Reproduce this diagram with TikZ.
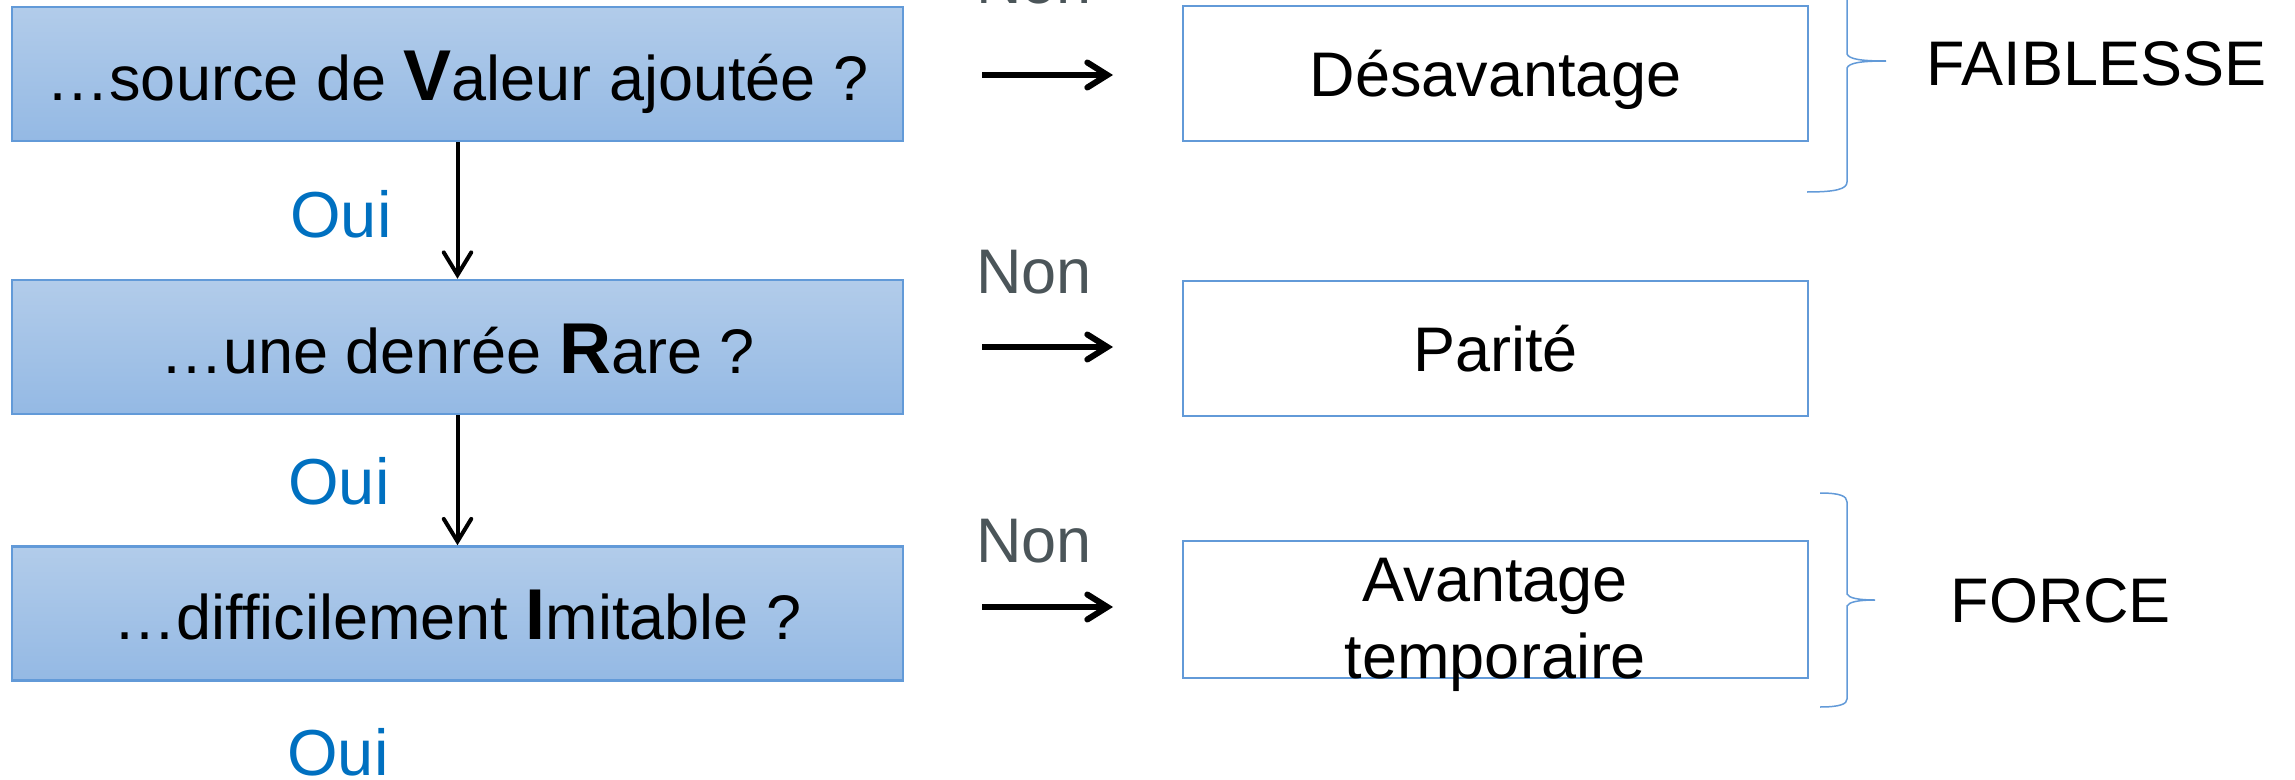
\documentclass[tikz,border=0pt]{standalone}
\usepackage{fontspec}
\setmainfont{Liberation Sans}
\usetikzlibrary{arrows.meta}
\definecolor{boxtop}{RGB}{178,204,234}
\definecolor{boxbot}{RGB}{148,185,228}
\definecolor{boxline}{RGB}{98,154,216}
\definecolor{ouiblue}{RGB}{0,112,192}
\definecolor{nongrey}{RGB}{75,85,89}
\newcommand{\initiale}[1]{{\fontsize{28.8}{30}\selectfont\bfseries #1}}
\tikzset{
  question/.style={draw=boxline, line width=1pt, top color=boxtop, bottom color=boxbot,
    minimum width=356.4pt, minimum height=53.6pt, inner sep=0pt,
    text height=21pt, text depth=0pt, font=\fontsize{25.2}{30}\selectfont},
  answer/.style={draw=boxline, line width=1.1pt, fill=white,
    minimum width=250pt, minimum height=54pt, inner sep=0pt, align=center,
    font=\fontsize{25.2}{30.8}\selectfont},
  oui/.style={text=ouiblue, anchor=base, inner sep=0pt, font=\fontsize{26}{30}\selectfont},
  non/.style={text=nongrey, anchor=base, inner sep=0pt, font=\fontsize{25.2}{30}\selectfont},
  verdict/.style={anchor=base west, inner sep=0pt, font=\fontsize{25.2}{30}\selectfont},
  brace/.style={draw=boxline, line width=0.6pt},
  yesarrow/.style={line width=1.6pt, -{Straight Barb[length=9pt,width=11pt,line cap=round]}},
  noarrow/.style={line width=2.4pt, -{Straight Barb[length=8pt,width=10pt,line cap=round]}}
}
\begin{document}
\begin{tikzpicture}[x=0.4pt,y=-0.4pt]
\useasboundingbox (0,0) rectangle (2295,780);
\clip (0,0) rectangle (2295,780);
% questions VRI
\node[question] (valeur) at (457.5,74) {…source de \initiale{V}aleur ajoutée ?};
\node[question] (rare) at (457.5,347) {…une denrée \initiale{R}are ?};
\node[question] (imitable) at (457.5,613.5) {…difficilement \initiale{I}mitable ?};
\draw[yesarrow] (valeur) -- (rare);
\draw[yesarrow] (rare) -- (imitable);
\node[oui] (oui1) at (341,237) {Oui};
\node[oui] (oui2) at (339,504) {Oui};
\node[oui] (oui3) at (338,775) {Oui};
% answers
\node[answer, text height=18.4pt, text depth=0pt] (desav) at (1495.5,73.5) {Désavantage};
\node[answer, text height=18.4pt, text depth=0pt] (parite) at (1495.5,348.5) {Parité};
\node[answer, minimum height=54.8pt] (avtemp) at (1495.5,609.5) {};
\node[align=center, inner sep=0pt, yshift=-6.2pt, font=\fontsize{25.2}{30.8}\selectfont] (avtext) at (avtemp) {Avantage\\temporaire};
% non
\coordinate (na1) at (982,75);
\coordinate (nb1) at (1113,75);
\coordinate (na2) at (982,347);
\coordinate (nb2) at (1113,347);
\coordinate (na3) at (982,607);
\coordinate (nb3) at (1113,607);
\draw[noarrow] (na1) -- (nb1);
\draw[noarrow] (na2) -- (nb2);
\draw[noarrow] (na3) -- (nb3);
\node[non] (non1) at (1034,4) {Non};
\node[non] (non2) at (1034,293) {Non};
\node[non] (non3) at (1034,562) {Non};
% braces
\draw[brace] (1807,192) .. controls (1836,192) and (1847,189) .. (1847,182) -- (1847,68)
  .. controls (1849,63) and (1860,61) .. (1886,61)
  .. controls (1860,61) and (1849,59) .. (1847,54) -- (1847,-80);
\draw[brace] (1820,493) .. controls (1840,493) and (1847,496) .. (1847,502) -- (1847,594)
  .. controls (1849,598) and (1858,600) .. (1875,600)
  .. controls (1858,600) and (1849,602) .. (1847,606) -- (1847,699)
  .. controls (1847,704) and (1840,707) .. (1820,707);
\node[verdict] (faiblesse) at (1926,85) {FAIBLESSE};
\node[verdict] (force) at (1950,622) {FORCE};
\end{tikzpicture}
\end{document}
